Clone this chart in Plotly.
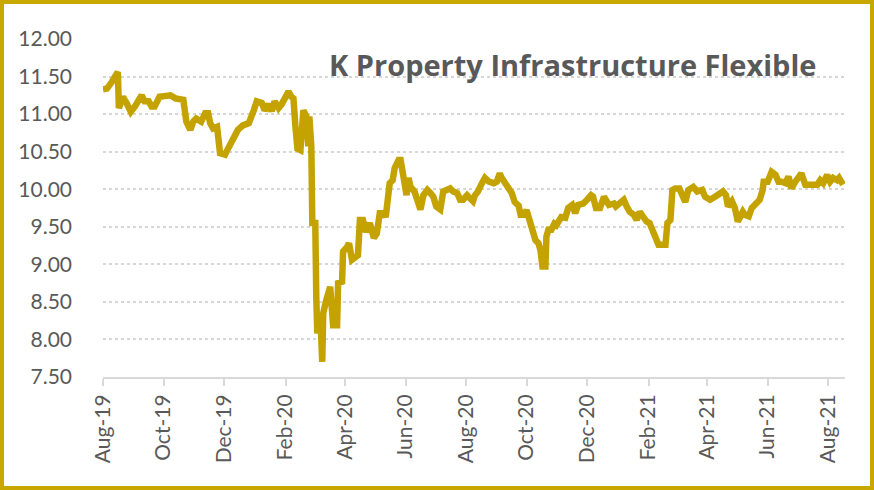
import pandas as pd
import plotly.graph_objects as go

START = "2019-08-01"
day_offsets = [0, 4, 9, 14, 15, 16, 20, 24, 28, 32, 36, 39, 42, 46, 49, 52, 57, 63, 68, 73, 78, 81, 84, 88, 91, 94,
               99, 103, 106, 108, 111, 115, 118, 123, 126, 130, 133, 136, 141, 147, 152, 155, 160, 163, 167, 170,
               173, 177, 180, 184, 187, 190, 192, 194, 196, 199, 202, 205, 207, 208, 210, 211, 214, 215, 216, 219,
               221, 222, 224, 225, 229, 232, 236, 237, 241, 242, 246, 248, 251, 254, 257, 259, 262, 265, 269, 273,
               276, 279, 283, 285, 287, 289, 292, 294, 298, 300, 304, 306, 308, 310, 314, 318, 320, 323, 327, 330,
               333, 336, 340, 343, 347, 350, 353, 357, 360, 363, 367, 370, 373, 375, 378, 382, 385, 389, 394, 397,
               400, 402, 405, 409, 412, 415, 419, 421, 424, 427, 429, 432, 436, 439, 441, 443, 446, 447, 449, 452,
               455, 457, 460, 462, 466, 469, 473, 476, 479, 484, 488, 492, 494, 497, 501, 505, 510, 515, 517, 521,
               525, 528, 531, 535, 538, 541, 544, 548, 551, 554, 557, 560, 563, 567, 569, 572, 574, 577, 581, 587,
               590, 595, 599, 604, 607, 612, 617, 620, 625, 628, 630, 634, 637, 640, 642, 645, 647, 651, 654, 657,
               662, 665, 666, 670, 674, 678, 681, 684, 688, 691, 694, 698, 701, 704, 708, 713, 716, 720, 723, 726,
               730, 733, 736, 740, 742, 746]
prices = [11.33, 11.34, 11.43, 11.54, 11.56, 11.08, 11.23, 11.14, 11.03, 11.10, 11.21, 11.25, 11.17, 11.17, 11.10,
          11.10, 11.23, 11.25, 11.25, 11.21, 11.19, 11.19, 10.90, 10.79, 10.90, 10.94, 10.90, 11.01, 11.01, 10.88,
          10.81, 10.83, 10.48, 10.46, 10.54, 10.63, 10.70, 10.79, 10.85, 10.88, 11.05, 11.17, 11.15, 11.05, 11.13,
          11.04, 11.17, 11.08, 11.13, 11.25, 11.30, 11.23, 11.21, 10.83, 10.54, 10.52, 11.05, 10.97, 10.57, 10.97,
          10.57, 9.55, 9.55, 8.57, 8.08, 8.35, 7.70, 8.35, 8.50, 8.52, 8.70, 8.19, 8.19, 8.75, 8.77, 9.17, 9.23,
          9.28, 9.06, 9.10, 9.12, 9.59, 9.59, 9.43, 9.55, 9.35, 9.41, 9.68, 9.68, 9.63, 9.81, 10.08, 10.12, 10.28,
          10.39, 10.39, 10.08, 9.92, 10.15, 10.03, 9.97, 9.75, 9.73, 9.92, 9.99, 9.95, 9.90, 9.77, 9.73, 9.97,
          10.00, 10.01, 9.97, 9.95, 9.86, 9.86, 9.92, 9.88, 9.84, 9.92, 9.97, 10.08, 10.15, 10.10, 10.08, 10.10,
          10.21, 10.15, 10.08, 9.99, 9.95, 9.83, 9.78, 9.66, 9.66, 9.72, 9.64, 9.50, 9.32, 9.28, 9.19, 8.97, 8.97,
          9.37, 9.46, 9.46, 9.54, 9.52, 9.57, 9.63, 9.62, 9.75, 9.79, 9.68, 9.79, 9.81, 9.86, 9.92, 9.90, 9.75,
          9.75, 9.90, 9.79, 9.81, 9.77, 9.81, 9.86, 9.77, 9.70, 9.66, 9.59, 9.70, 9.64, 9.57, 9.55, 9.46, 9.32,
          9.26, 9.26, 9.26, 9.55, 9.59, 9.99, 10.01, 10.01, 9.83, 9.99, 10.03, 9.97, 9.99, 9.90, 9.86, 9.90, 9.93,
          9.97, 9.92, 9.77, 9.84, 9.75, 9.57, 9.63, 9.70, 9.66, 9.64, 9.75, 9.79, 9.86, 9.99, 10.10, 10.10, 10.23,
          10.19, 10.10, 10.10, 10.08, 10.17, 10.01, 10.10, 10.17, 10.21, 10.06, 10.06, 10.08, 10.06, 10.12, 10.08,
          10.19, 10.10, 10.15, 10.12, 10.15, 10.06]

tick_dates = ["2019-08-01", "2019-10-01", "2019-12-01", "2020-02-01", "2020-04-01", "2020-06-01", "2020-08-01",
              "2020-10-01", "2020-12-01", "2021-02-01", "2021-04-01", "2021-06-01", "2021-08-01"]
tick_labels = ["Aug-19", "Oct-19", "Dec-19", "Feb-20", "Apr-20", "Jun-20", "Aug-20", "Oct-20", "Dec-20",
               "Feb-21", "Apr-21", "Jun-21", "Aug-21"]
y_ticks = [7.5, 8.0, 8.5, 9.0, 9.5, 10.0, 10.5, 11.0, 11.5, 12.0]
title_text = "K Property Infrastructure Flexible"

dates = pd.Timestamp(START) + pd.to_timedelta(day_offsets, unit="D")

GOLD = "#C4A300"
GRAY = "#595959"
W, H = 874, 490
ML, MR, MT, MB = 103, 29, 39, 113

fig = go.Figure()
fig.add_trace(go.Scatter(x=dates, y=prices, mode="lines",
                         line=dict(color=GOLD, width=6.5), hoverinfo="x+y"))

pw = W - ML - MR
ph = H - MT - MB
fig.add_shape(type="rect", xref="paper", yref="paper",
              x0=(2 - ML) / pw, x1=(W - 2 - ML) / pw,
              y0=-(MB - 2) / ph, y1=(ph + MT - 2) / ph,
              line=dict(color="#C8A800", width=4), fillcolor="rgba(0,0,0,0)", layer="above")

fig.add_annotation(text="<b>" + title_text + "</b>", xref="paper", yref="paper",
                   x=(818 - ML) / pw, y=(H - MB - 65) / ph, xanchor="right", yanchor="middle",
                   showarrow=False, font=dict(family="Open Sans", size=29, color=GRAY))

fig.update_layout(
    width=W, height=H,
    margin=dict(l=ML, r=MR, t=MT, b=MB),
    paper_bgcolor="white", plot_bgcolor="white",
    showlegend=False,
    xaxis=dict(range=["2019-08-01", "2021-08-18"], tickmode="array", tickvals=tick_dates,
               ticktext=tick_labels, tickangle=-90, showgrid=False, zeroline=False,
               showline=True, linecolor="#D9D9D9", linewidth=2,
               ticks="outside", ticklen=7, tickwidth=2, tickcolor="#D9D9D9",
               tickfont=dict(family="Lato", size=21, color=GRAY)),
    yaxis=dict(range=[7.5, 12.0], tickmode="array", tickvals=y_ticks, tickformat=".2f",
               showgrid=True, gridcolor="#D6D6D6", griddash="dot", gridwidth=1.5,
               zeroline=False, showline=False, ticks="", ticklabelstandoff=30,
               tickfont=dict(family="Lato", size=21, color=GRAY)),
)

fig.write_html("out.html", config={"displayModeBar": False},
               post_script="document.body.style.margin='0';document.body.style.overflow='hidden';")
